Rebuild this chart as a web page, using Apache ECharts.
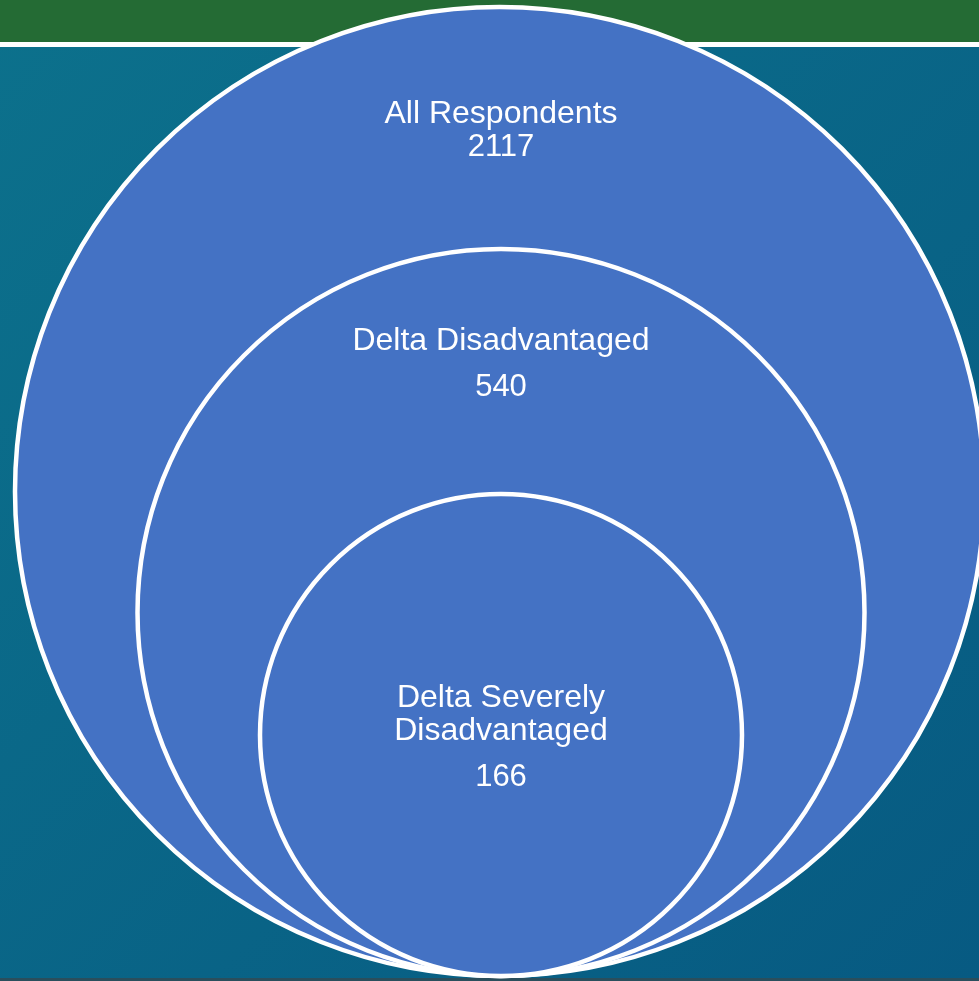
<!DOCTYPE html>
<html>
<head>
<meta charset="utf-8">
<script src="https://cdn.jsdelivr.net/npm/echarts@6/dist/echarts.min.js"></script>
<style>
    html, body { margin: 0; padding: 0; background: #085f83; }
    #main { width: 979px; height: 981px; }
</style>
</head>
<body>
<div id="main"></div>
<script>
// groups and respondent counts
var groups = ['All Respondents', 'Delta Disadvantaged', 'Delta Severely\nDisadvantaged'];
var counts = [2117, 540, 166];

// nested ring layout (axis units = pixels), all rings touch at the bottom
var ringLayout = [
    { cx: 499.5, r: 484.5, textTop: 91,  valueLine: 33 },
    { cx: 501,   r: 363.5, textTop: 76,  valueLine: 58 },
    { cx: 501,   r: 241,   textTop: 187.5, valueLine: 60 }
];
var ringBottom = 976;
var fontFam = 'Liberation Sans, Arial, sans-serif';

var chart = echarts.init(document.getElementById('main'));

var seriesData = [];
for (var i = 0; i < groups.length; i++) {
    seriesData.push({ name: groups[i], value: [i, counts[i]] });
}

var option = {
    animation: false,
    graphic: [
        {
            type: 'rect', z: -10, silent: true,
            shape: { x: 0, y: 0, width: 979, height: 981 },
            style: {
                fill: new echarts.graphic.LinearGradient(0, 0, 1, 1, [
                    { offset: 0, color: '#0c718c' },
                    { offset: 1, color: '#075a82' }
                ])
            }
        },
        {
            type: 'rect', z: -9, silent: true,
            shape: { x: 0, y: 0, width: 979, height: 42 },
            style: { fill: '#246b34' }
        },
        {
            type: 'rect', z: -9, silent: true,
            shape: { x: 0, y: 42, width: 979, height: 5 },
            style: { fill: '#ffffff' }
        },
        {
            type: 'rect', z: -9, silent: true,
            shape: { x: 0, y: 978, width: 979, height: 3 },
            style: { fill: '#2a4e5c' }
        }
    ],
    grid: { left: 0, right: 0, top: 0, bottom: 0 },
    xAxis: { type: 'value', min: 0, max: 979, show: false },
    yAxis: { type: 'value', min: 0, max: 981, inverse: true, show: false },
    series: [
        {
            type: 'custom',
            coordinateSystem: 'cartesian2d',
            data: seriesData,
            clip: false,
            renderItem: function (params, api) {
                var idx = api.value(0);
                var ring = ringLayout[idx];
                var center = api.coord([ring.cx, ringBottom - ring.r]);
                var rad = api.size([ring.r, ring.r])[0];
                var top = center[1] - rad;
                var nameText = groups[idx].split('\n').map(function (s) {
                    return '{n|' + s + '}';
                }).join('\n');
                return {
                    type: 'group',
                    children: [
                        {
                            type: 'circle',
                            shape: { cx: center[0], cy: center[1], r: rad },
                            style: { fill: '#4472c4', stroke: '#ffffff', lineWidth: 4.5 }
                        },
                        {
                            type: 'text',
                            x: 501,
                            y: top + ring.textTop,
                            style: {
                                text: nameText + '\n{v|' + api.value(1) + '}',
                                align: 'center',
                                verticalAlign: 'top',
                                fill: '#ffffff',
                                fontFamily: fontFam,
                                fontSize: 32,
                                rich: {
                                    n: { fontSize: 32, lineHeight: 33, fill: '#ffffff', fontFamily: fontFam },
                                    v: { fontSize: 31, lineHeight: ring.valueLine, fill: '#ffffff', fontFamily: fontFam }
                                }
                            }
                        }
                    ]
                };
            }
        }
    ]
};

chart.setOption(option);
</script>
</body>
</html>
